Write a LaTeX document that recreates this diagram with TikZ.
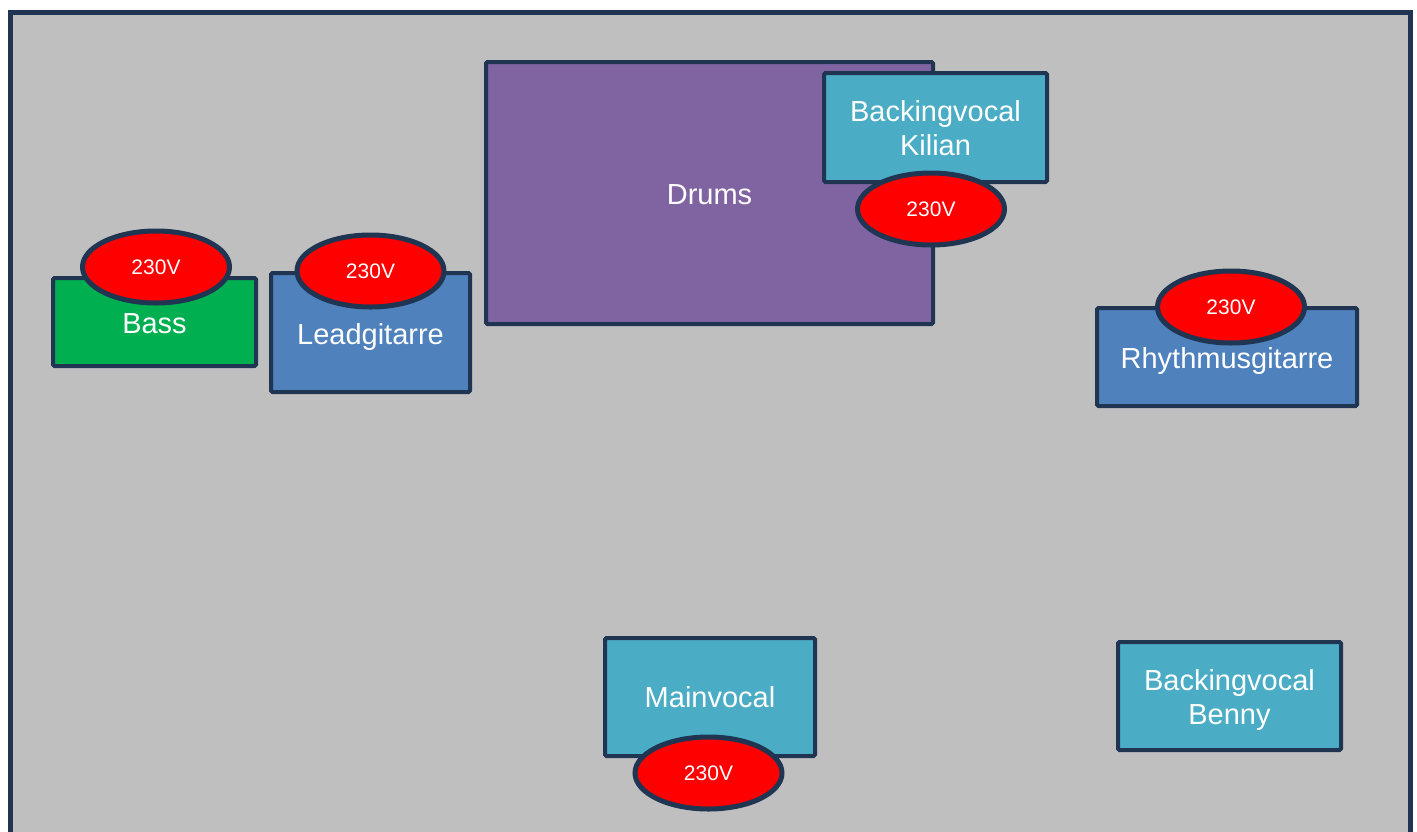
\documentclass[tikz,border=0pt]{standalone}
\usepackage{fontspec}
\setmainfont{Liberation Sans}
\usetikzlibrary{shapes.geometric}
\definecolor{edge}{RGB}{31,53,82}
\definecolor{stage}{RGB}{191,191,191}
\definecolor{bassgreen}{RGB}{0,176,80}
\definecolor{guitblue}{RGB}{79,129,189}
\definecolor{drumpurple}{RGB}{128,100,162}
\definecolor{vocalcyan}{RGB}{75,172,198}
\definecolor{plugred}{RGB}{255,0,0}
\tikzset{
  box/.style={draw=edge, line width=4pt, rounded corners=1.5pt, inner sep=0pt},
  label1/.style={text=white, font=\fontsize{29}{34}\selectfont, inner sep=0pt,
    text height=20.8pt, text depth=0pt},
  label2/.style={text=white, font=\fontsize{29}{34}\selectfont, inner sep=0pt,
    align=center},
  plug/.style={ellipse, draw=edge, line width=5pt, fill=plugred, text=white,
    font=\fontsize{21}{24}\selectfont, inner sep=0pt,
    minimum width=147pt, minimum height=72pt}
}
\begin{document}
\begin{tikzpicture}[x=1pt,y=-1pt]
\useasboundingbox (0,0) rectangle (1417,831);
\clip (0,0) rectangle (1417,831);
\fill[white] (0,0) rectangle (1417,831);
\draw[edge, line width=5pt, fill=stage] (10,12) rectangle (1410,850);
% Drums
\node[box, fill=drumpurple, minimum width=447pt, minimum height=262pt] (drums) at (709.5,193) {};
\node[label1] (drumst) at (709.5,194) {Drums};
% Bass
\node[box, fill=bassgreen, minimum width=203pt, minimum height=88pt] (bass) at (154.5,322) {};
\node[plug] (bassv) at (156,267) {230V};
\node[label1] (basst) at (154.5,322.7) {Bass};
% Leadgitarre
\node[box, fill=guitblue, minimum width=199pt, minimum height=119pt] (lead) at (370.5,332.5) {};
\node[label1] (leadt) at (370.5,333.7) {Leadgitarre};
\node[plug] (leadv) at (370.5,271) {230V};
% Backingvocal Kilian
\node[box, fill=vocalcyan, minimum width=223pt, minimum height=109pt] (kilian) at (935.5,127.5) {};
\node[label2] (kiliant) at (935.5,128.3) {Backingvocal\\Kilian};
\node[plug] (kilianv) at (931,209) {230V};
% Rhythmusgitarre
\node[box, fill=guitblue, minimum width=260pt, minimum height=98pt] (rhythm) at (1227,357) {};
\node[label1] (rhythmt) at (1227,358) {Rhythmusgitarre};
\node[plug] (rhythmv) at (1231,307) {230V};
% Mainvocal
\node[box, fill=vocalcyan, minimum width=210pt, minimum height=118pt] (main) at (710,697) {};
\node[label1] (maint) at (710,697.5) {Mainvocal};
\node[plug] (mainv) at (708.5,773) {230V};
% Backingvocal Benny
\node[box, fill=vocalcyan, minimum width=223pt, minimum height=108pt] (benny) at (1229.5,696) {};
\node[label2] (bennyt) at (1229.5,700) {Backingvocal\\Benny};
\end{tikzpicture}
\end{document}
